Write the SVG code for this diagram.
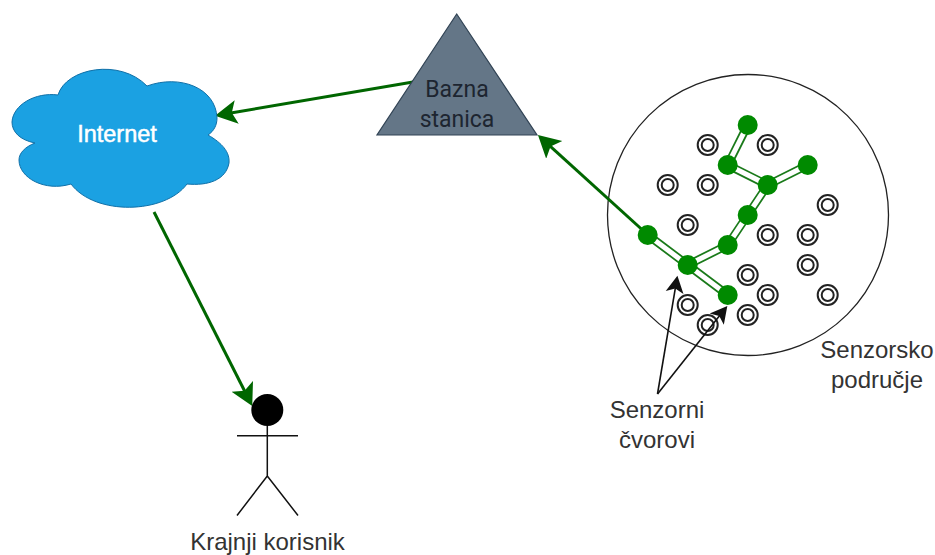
<svg xmlns="http://www.w3.org/2000/svg" xmlns:xlink="http://www.w3.org/1999/xlink" width="935" height="555" viewBox="0 0 935 555">
<style>
text{font-family:"Liberation Sans",Arial,sans-serif;font-size:24px;fill:#333;text-anchor:middle}
.arrow{fill:none;stroke:#006600;stroke-width:3;marker-end:url(#gh)}
.ptr{fill:none;stroke:#111;stroke-width:1.6;marker-end:url(#bh)}
.dl{fill:none;stroke:#1a7a1a;stroke-width:8.5}
.dw{fill:none;stroke:#fff;stroke-width:5}
.g{fill:#008a00;stroke:none}
.s{fill:none;stroke:#222;stroke-width:2}
.a{fill:none;stroke:#111;stroke-width:1.5}
</style>
<defs>
<marker id="gh" markerUnits="userSpaceOnUse" markerWidth="26" markerHeight="28" refX="6" refY="13" orient="auto"><path d="M22,13 L0,1 L5,13 L0,25 Z" fill="#006600"/></marker>
<marker id="bh" markerUnits="userSpaceOnUse" markerWidth="20" markerHeight="22" refX="6" refY="10" orient="auto"><path d="M17,10 L0,1 L4,10 L0,19 Z" fill="#111"/></marker>
<g id="ring"><circle r="10" class="s"/><circle r="6" class="s"/></g>
</defs>
<rect width="935" height="555" fill="#fff"/>
<g id="senzorsko-podrucje"><circle cx="748" cy="215" r="140.5" fill="#fff" stroke="#222" stroke-width="1.3"/></g>
<g id="senzori">
<use id="s1" xlink:href="#ring" href="#ring" x="707.7" y="145"/>
<use id="s2" xlink:href="#ring" href="#ring" x="767.7" y="145"/>
<use id="s3" xlink:href="#ring" href="#ring" x="667.7" y="185"/>
<use id="s4" xlink:href="#ring" href="#ring" x="707.7" y="185"/>
<use id="s5" xlink:href="#ring" href="#ring" x="827.7" y="205"/>
<use id="s6" xlink:href="#ring" href="#ring" x="687.7" y="225"/>
<use id="s7" xlink:href="#ring" href="#ring" x="767.7" y="235"/>
<use id="s8" xlink:href="#ring" href="#ring" x="807.7" y="235"/>
<use id="s9" xlink:href="#ring" href="#ring" x="807.7" y="265"/>
<use id="s10" xlink:href="#ring" href="#ring" x="747.7" y="275"/>
<use id="s11" xlink:href="#ring" href="#ring" x="767.7" y="295"/>
<use id="s12" xlink:href="#ring" href="#ring" x="827.7" y="295"/>
<use id="s13" xlink:href="#ring" href="#ring" x="687.7" y="305"/>
<use id="s14" xlink:href="#ring" href="#ring" x="707.7" y="325"/>
<use id="s15" xlink:href="#ring" href="#ring" x="747.7" y="315"/>
</g>
<g id="connectors">
<path class="arrow" d="M413,82 L230.8,113"/>
<path class="arrow" d="M648,235 L549.8,145.8"/>
<path class="arrow" d="M154,212 L245,391.7"/>
<path class="dl" d="M747.7,125 L727.7,165 L767.7,185 M807.7,165 L767.7,185 L747.7,215 L727.7,245 L687.7,265 L647.7,235 M687.7,265 L727.7,295"/>
<path class="dw" d="M747.7,125 L727.7,165 L767.7,185 M807.7,165 L767.7,185 L747.7,215 L727.7,245 L687.7,265 L647.7,235 M687.7,265 L727.7,295"/>
<path class="ptr" d="M657.5,394 L675.6,286.6"/>
<path class="ptr" d="M657.5,394 L720.5,314.5"/>
</g>
<g id="internet">
<path d="M58,95 C66,68 120,58 147,86 C180,74 216,88 217,118 C217,125 214,131 208,135 C222,143 230,152 229,163 C226,180 208,186 187,184 C165,214 95,216 71,184 C45,192 19,178 19,160 C19,153 25,147 35,143 C20,140 12,132 12,122 C13,105 35,92 58,95 Z" fill="#1ba1e2" stroke="#1070a8" stroke-width="1"/>
<text x="117" y="142" style="fill:#fff;stroke:#fff;stroke-width:.5;font-size:23.5px">Internet</text>
</g>
<g id="bazna-stanica">
<path d="M456.7,14 L537,135 L377,135 Z" fill="#647687" stroke="#314354" stroke-width="1.2"/>
<text x="457" y="97" style="font-family:Roboto,sans-serif;fill:#1d2530;font-size:23px">Bazna</text>
<text x="457" y="127" style="font-family:Roboto,sans-serif;fill:#1d2530;font-size:23px">stanica</text>
</g>
<g id="krajnji-korisnik">
<circle cx="267.3" cy="410" r="16" fill="#000"/>
<path class="a" d="M267.3,426 V476 M237,435.7 H298 M237,515.5 L267.3,476 L298,515.5"/>
<text x="267.5" y="550">Krajnji korisnik</text>
</g>
<g id="senzorni-cvorovi">
<circle class="g" id="n1" cx="747.7" cy="125" r="10"/>
<circle class="g" id="n2" cx="727.7" cy="165" r="10"/>
<circle class="g" id="n3" cx="807.7" cy="165" r="10"/>
<circle class="g" id="n4" cx="767.7" cy="185" r="10"/>
<circle class="g" id="n5" cx="747.7" cy="215" r="10"/>
<circle class="g" id="n6" cx="727.7" cy="245" r="10"/>
<circle class="g" id="n7" cx="647.7" cy="235" r="10"/>
<circle class="g" id="n8" cx="687.7" cy="265" r="10"/>
<circle class="g" id="n9" cx="727.7" cy="295" r="10"/>
</g>
<g id="label-senzorni"><text x="657" y="418">Senzorni</text><text x="657" y="448">čvorovi</text></g>
<g id="label-senzorsko"><text x="877" y="358">Senzorsko</text><text x="877" y="388">područje</text></g>
</svg>
